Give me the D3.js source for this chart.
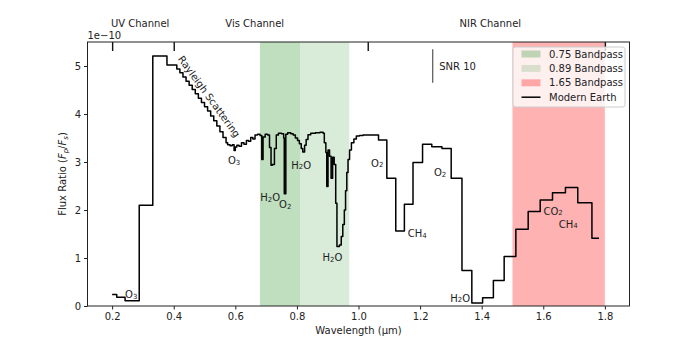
<!DOCTYPE html>
<html>
<head>
<meta charset="utf-8">
<script src="https://cdn.jsdelivr.net/npm/d3@7/dist/d3.min.js"></script>
<style>
	body { margin: 0; background: #fff; }
	text { font-family: "DejaVu Sans", sans-serif; }
</style>
</head>
<body>
<svg id="chart" width="700" height="350"></svg>
<script>
// spectrum, step positions (um) and flux ratio (x 1e-10)
var uvWl = [0.200, 0.215, 0.242, 0.288, 0.332, 0.378];
var uvFlux = [0.24, 0.18, 0.11, 2.10, 5.21, 5.02];

var visWl = [0.400, 0.410, 0.420, 0.430, 0.440, 0.450, 0.460, 0.470, 0.480, 0.490,
	0.500, 0.510, 0.520, 0.530, 0.540, 0.550, 0.560, 0.570, 0.575, 0.583,
	0.590, 0.596, 0.600, 0.605, 0.612, 0.620, 0.628, 0.636, 0.643, 0.650,
	0.657, 0.664, 0.672, 0.680, 0.686, 0.690, 0.697, 0.705, 0.711, 0.716,
	0.720, 0.727, 0.733, 0.740, 0.750, 0.757, 0.759, 0.764, 0.770, 0.780,
	0.788, 0.795, 0.802, 0.808, 0.814, 0.819, 0.825, 0.830, 0.836, 0.845,
	0.860, 0.875, 0.885, 0.889, 0.894, 0.897, 0.901, 0.906, 0.911, 0.916,
	0.921, 0.926, 0.930, 0.938, 0.944, 0.949, 0.954, 0.958, 0.962, 0.966,
	0.971, 0.977, 0.985, 0.993, 1.003, 1.015];
var visFlux = [5.02, 4.94, 4.86, 4.77, 4.68, 4.60, 4.51, 4.42, 4.33, 4.24,
	4.15, 4.06, 3.96, 3.86, 3.75, 3.63, 3.51, 3.40, 3.36, 3.34,
	3.36, 3.24, 3.31, 3.35, 3.33, 3.40, 3.37, 3.45, 3.43, 3.51,
	3.48, 3.56, 3.58, 3.55, 3.05, 3.52, 3.58, 3.56, 3.30, 2.93,
	2.95, 3.28, 3.56, 3.60, 3.59, 3.50, 2.34, 3.58, 3.61, 3.59,
	3.56, 3.50, 3.45, 3.38, 3.28, 3.21, 3.35, 3.47, 3.57, 3.60,
	3.61, 3.62, 3.60, 3.40, 3.20, 2.49, 3.25, 3.12, 2.66, 3.10,
	2.95, 2.14, 1.24, 1.27, 1.45, 1.70, 2.00, 2.40, 2.78, 3.05,
	3.25, 3.40, 3.48, 3.54, 3.55, 3.56];

var nirWl = [1.030, 1.065, 1.092, 1.121, 1.149, 1.177, 1.208, 1.238, 1.271, 1.301,
	1.336, 1.368, 1.403, 1.438, 1.473, 1.511, 1.551, 1.590, 1.630, 1.672,
	1.712, 1.758, 1.781];
var nirFlux = [3.56, 3.46, 2.66, 1.56, 2.12, 2.99, 3.37, 3.32, 3.28, 2.66,
	0.74, 0.06, 0.17, 0.53, 1.03, 1.60, 1.97, 2.21, 2.36, 2.47,
	2.15, 1.41, 1.41];

// bandpasses
var bandNames = ['0.75 Bandpass', '0.89 Bandpass', '1.65 Bandpass'];
var bandStart = [0.68, 0.81, 1.50];
var bandEnd = [0.81, 0.97, 1.80];

// channels on the top axis
var channelEdges = [0.2, 0.4, 1.03, 1.8];
var channelNames = ['UV Channel', 'Vis Channel', 'NIR Channel'];
var channelCenters = [0.291, 0.663, 1.428];

// molecule labels (um, flux)
var molText = ['O3', 'O3', 'H2O', 'O2', 'H2O', 'H2O', 'O2', 'CH4', 'O2', 'H2O', 'CO2', 'CH4'];
var molX = [0.262, 0.596, 0.713, 0.762, 0.814, 0.915, 1.061, 1.191, 1.265, 1.330, 1.632, 1.681];
var molY = [0.25, 3.04, 2.27, 2.125, 2.94, 1.02, 2.98, 1.52, 2.79, 0.17, 1.98, 1.71];

var xTicks = [0.2, 0.4, 0.6, 0.8, 1.0, 1.2, 1.4, 1.6, 1.8];
var yTicks = [0, 1, 2, 3, 4, 5];

// snr 10 error bar
var snrX = 1.241, snrY = 5.0, snrErr = 0.35;

var margin = {left: 87.5, right: 629.5, top: 42, bottom: 306};

var x = d3.scaleLinear().domain([0.12, 1.88]).range([margin.left, margin.right]);
var y = d3.scaleLinear().domain([0, 5.5]).range([margin.bottom, margin.top]);

var svg = d3.select('#chart');

// bandpass shading
var bandColor = ['green', 'green', 'red'];
var bandAlpha = [0.25, 0.15, 0.3];
svg.append('g').selectAll('rect')
	.data(bandNames)
	.enter().append('rect')
	.attr('x', function(d, i) { return x(bandStart[i]); })
	.attr('y', margin.top)
	.attr('width', function(d, i) { return x(bandEnd[i]) - x(bandStart[i]); })
	.attr('height', margin.bottom - margin.top)
	.attr('fill', function(d, i) { return bandColor[i]; })
	.attr('fill-opacity', function(d, i) { return bandAlpha[i]; });

// spectrum
var wl = uvWl.concat(visWl, nirWl);
var flux = uvFlux.concat(visFlux, nirFlux);
var line = d3.line()
	.x(function(d, i) { return x(wl[i]); })
	.y(function(d) { return y(d); })
	.curve(d3.curveStepAfter);

svg.append('path')
	.datum(flux)
	.attr('d', line)
	.attr('fill', 'none')
	.attr('stroke', 'black')
	.attr('stroke-width', 1.5)
	.attr('stroke-linejoin', 'round');

// axes
var xAxis = svg.append('g')
	.attr('transform', 'translate(0,' + margin.bottom + ')')
	.call(d3.axisBottom(x).tickValues(xTicks).tickFormat(d3.format('.1f')).tickSize(3.5).tickPadding(3));
var yAxis = svg.append('g')
	.attr('transform', 'translate(' + margin.left + ',0)')
	.call(d3.axisLeft(y).tickValues(yTicks).tickFormat(d3.format('d')).tickSize(3.5).tickPadding(3));
var topAxis = svg.append('g')
	.attr('transform', 'translate(0,' + margin.top + ')')
	.call(d3.axisTop(x).tickValues(channelEdges).tickFormat('').tickSizeInner(-9).tickSizeOuter(0));

[xAxis, yAxis, topAxis].forEach(function(g) {
	g.select('.domain').remove();
	g.selectAll('text').attr('font-size', 10).attr('fill', '#222').attr('font-family', '"DejaVu Sans", sans-serif');
	g.selectAll('line').attr('stroke', '#222');
});
topAxis.selectAll('line').attr('stroke-width', 1.4).attr('stroke', '#111');

svg.append('rect')
	.attr('x', margin.left)
	.attr('y', margin.top)
	.attr('width', margin.right - margin.left)
	.attr('height', margin.bottom - margin.top)
	.attr('fill', 'none')
	.attr('stroke', '#222')
	.attr('stroke-width', 1);

// channel names
svg.append('g').selectAll('text')
	.data(channelNames)
	.enter().append('text')
	.attr('x', function(d, i) { return x(channelCenters[i]); })
	.attr('y', 27)
	.attr('text-anchor', 'middle')
	.attr('font-size', 10)
	.attr('fill', '#222')
	.text(function(d) { return d; });

svg.append('text')
	.attr('x', margin.left)
	.attr('y', 39)
	.attr('font-size', 10)
	.attr('fill', '#222')
	.text('1e\u221210');

// axis labels
svg.append('text')
	.attr('x', (margin.left + margin.right) / 2)
	.attr('y', 334)
	.attr('text-anchor', 'middle')
	.attr('font-size', 10)
	.attr('fill', '#222')
	.text('Wavelength (\u00b5m)');

var ylab = svg.append('text')
	.attr('transform', 'translate(66,' + (margin.top + margin.bottom) / 2 + ') rotate(-90)')
	.attr('text-anchor', 'middle')
	.attr('font-size', 10)
	.attr('fill', '#222');
ylab.append('tspan').text('Flux Ratio (');
ylab.append('tspan').attr('font-style', 'italic').text('F');
ylab.append('tspan').attr('font-size', 7).attr('font-style', 'italic').attr('dy', 2).text('p');
ylab.append('tspan').attr('dy', -2).text('/');
ylab.append('tspan').attr('font-style', 'italic').text('F');
ylab.append('tspan').attr('font-size', 7).attr('font-style', 'italic').attr('dy', 2).text('s');
ylab.append('tspan').attr('dy', -2).text(')');

// molecule labels, digits as subscripts
function addFormula(sel, str) {
	var parts = str.match(/[A-Za-z]+|\d+/g);
	var low = false;
	parts.forEach(function(p) {
		var isNum = /\d/.test(p);
		var t = sel.append('tspan').text(p);
		if (isNum && !low) { t.attr('dy', 2.5).attr('font-size', 7); low = true; }
		else if (isNum) { t.attr('font-size', 7); }
		else if (low) { t.attr('dy', -2.5); low = false; }
	});
}
svg.append('g').selectAll('text')
	.data(molText)
	.enter().append('text')
	.attr('x', function(d, i) { return x(molX[i]); })
	.attr('y', function(d, i) { return y(molY[i]); })
	.attr('text-anchor', 'middle')
	.attr('dominant-baseline', 'central')
	.attr('font-size', 10)
	.attr('fill', '#222')
	.each(function(d) { addFormula(d3.select(this), d); });

svg.append('text')
	.attr('transform', 'translate(' + x(0.515) + ',' + y(4.365) + ') rotate(54)')
	.attr('text-anchor', 'middle')
	.attr('dominant-baseline', 'central')
	.attr('font-size', 10)
	.attr('fill', '#222')
	.text('Rayleigh Scattering');

// snr bar
svg.append('line')
	.attr('x1', x(snrX)).attr('x2', x(snrX))
	.attr('y1', y(snrY + snrErr)).attr('y2', y(snrY - snrErr))
	.attr('stroke', '#555')
	.attr('stroke-width', 1.2);
svg.append('text')
	.attr('x', x(snrX) + 6.5)
	.attr('y', y(snrY) + 4)
	.attr('font-size', 10)
	.attr('fill', '#222')
	.text('SNR 10');

// legend
var legend = svg.append('g').attr('transform', 'translate(513,47)');
legend.append('rect')
	.attr('width', 112).attr('height', 60).attr('rx', 2.5)
	.attr('fill', 'white').attr('fill-opacity', 0.8)
	.attr('stroke', '#ccc').attr('stroke-width', 1);
var legendNames = bandNames.concat(['Modern Earth']);
var item = legend.selectAll('g.item')
	.data(legendNames)
	.enter().append('g')
	.attr('class', 'item')
	.attr('transform', function(d, i) { return 'translate(0,' + (7 + i * 14.4) + ')'; });
item.filter(function(d, i) { return i < 3; }).append('rect')
	.attr('x', 8.5).attr('y', -3.5).attr('width', 19).attr('height', 7)
	.attr('fill', function(d, i) { return bandColor[i]; })
	.attr('fill-opacity', function(d, i) { return bandAlpha[i]; });
item.filter(function(d, i) { return i === 3; }).append('line')
	.attr('x1', 8.5).attr('x2', 27.5)
	.attr('stroke', 'black').attr('stroke-width', 1.5);
item.append('text')
	.attr('x', 36)
	.attr('dominant-baseline', 'central')
	.attr('font-size', 10)
	.attr('fill', '#222')
	.text(function(d) { return d; });
</script>
</body>
</html>
